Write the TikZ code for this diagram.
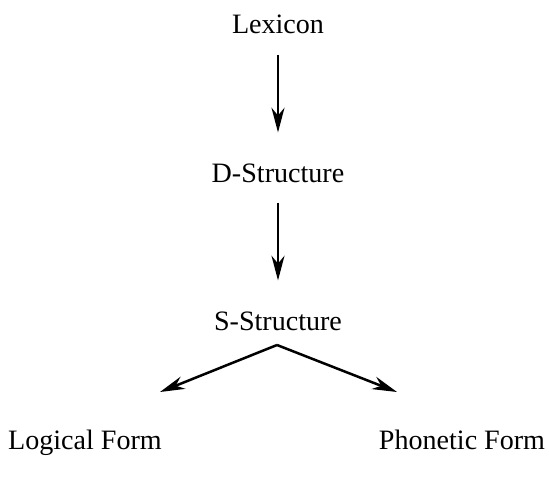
\documentclass[tikz,border=0pt]{standalone}
\usepackage{fontspec}
\setmainfont{Liberation Serif}
\usetikzlibrary{arrows.meta,positioning}

\begin{document}
\begin{tikzpicture}[x=0.0154cm,y=-0.0154cm]
  \tikzset{
    level/.style={font=\fontsize{12.3}{14}\selectfont, inner sep=0pt, anchor=base},
    derive/.style={-{Stealth[length=0.38cm, width=0.2cm, inset=0.12cm]}, line width=1.1pt}
  }
  \useasboundingbox (0,0) rectangle (549,482);

  % levels of representation
  \node[level] (lex) at (278,34) {Lexicon};
  \node[level] (ds) at (278,182) {D-Structure};
  \node[level] (ss) at (278,330) {S-Structure};
  \node[level] (lf) at (85,449) {Logical Form};
  \node[level] (pf) at (462,449) {Phonetic Form};

  % branching point below S-Structure
  \coordinate (split) at (277,345);
  \coordinate (lfend) at (160,392);
  \coordinate (pfend) at (397,392);

  % derivation
  \draw[derive, shorten <=0.31cm, shorten >=0.47cm] (lex) -- (ds);
  \draw[derive, shorten <=0.31cm, shorten >=0.47cm] (ds) -- (ss);
  \draw[derive] (split) -- (lfend);
  \draw[derive] (split) -- (pfend);

\end{tikzpicture}
\end{document}
